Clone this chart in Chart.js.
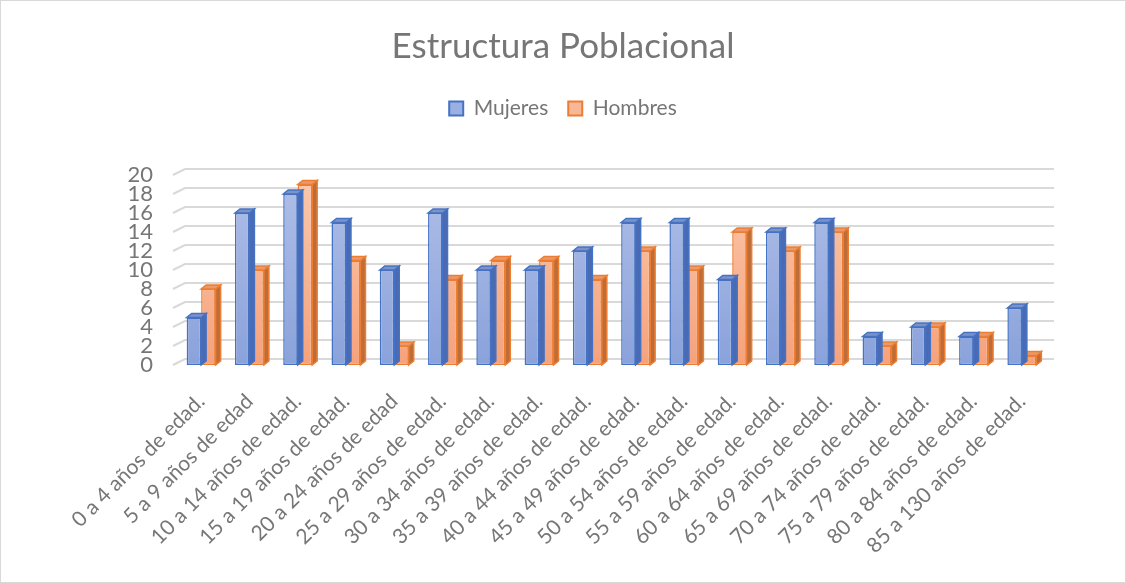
<!DOCTYPE html>
<html>
<head>
<meta charset="utf-8">
<script src="https://cdn.jsdelivr.net/npm/chart.js@4"></script>
<style>
  html, body { margin: 0; padding: 0; background: #fff; }
  #wrap { width: 1126px; height: 583px; position: relative; }
</style>
</head>
<body>
<div id="wrap"><canvas id="chart"></canvas></div>
<script>
// datos
const categorias = [
  '0 a 4 años de edad.', '5 a 9 años de edad', '10 a 14 años de edad.', '15 a 19 años de edad.',
  '20 a 24 años de edad', '25 a 29 años de edad.', '30 a 34 años de edad.', '35 a 39 años de edad.',
  '40 a 44 años de edad.', '45 a 49 años de edad.', '50 a 54 años de edad.', '55 a 59 años de edad.',
  '60 a 64 años de edad.', '65 a 69 años de edad.', '70 a 74 años de edad.', '75 a 79 años de edad.',
  '80 a 84 años de edad.', '85 a 130 años de edad.'
];
const mujeres = [5, 16, 18, 15, 10, 16, 10, 10, 12, 15, 15, 9, 14, 15, 3, 4, 3, 6];
const hombres = [8, 10, 19, 11, 2, 9, 11, 11, 9, 12, 10, 14, 12, 14, 2, 4, 3, 1];
const ticksY = [0, 2, 4, 6, 8, 10, 12, 14, 16, 18, 20];

const gris = '#767676';
const fuente = "Lato, 'Open Sans', sans-serif";

// colores de cada serie: arriba, abajo, borde, lado, tapa
const estilos = [
  { top: '#b0bfe7', bottom: '#8aa2db', border: '#4472c4', side: '#4a6bb3', cap: '#7d92c6' },
  { top: '#fbc8ac', bottom: '#f5a27c', border: '#ed7d31', side: '#bf6d38', cap: '#e9996c' }
];

function degradado(ctx, i) {
  const area = ctx.chart.chartArea;
  if (!area) return estilos[i].bottom;
  const g = ctx.chart.ctx.createLinearGradient(0, area.top, 0, area.bottom);
  g.addColorStop(0, estilos[i].top);
  g.addColorStop(1, estilos[i].bottom);
  return g;
}

// profundidad de las barras
const DX = 5, DY = 4;

// dibuja el lado y la tapa de cada barra (efecto 3D)
const barras3d = {
  id: 'barras3d',
  afterDatasetDraw(chart, args) {
    const c = chart.ctx;
    const st = estilos[args.index];
    args.meta.data.forEach(bar => {
      const p = bar.getProps(['x', 'y', 'base', 'width'], true);
      const l = p.x - p.width / 2, r = p.x + p.width / 2;
      c.save();
      c.lineWidth = 1.5;
      c.strokeStyle = st.border;
      // lado derecho
      c.beginPath();
      c.moveTo(r, p.y);
      c.lineTo(r + DX, p.y - DY);
      c.lineTo(r + DX, p.base - DY);
      c.lineTo(r, p.base);
      c.closePath();
      c.fillStyle = st.side;
      c.fill();
      c.stroke();
      // tapa
      c.beginPath();
      c.moveTo(l, p.y);
      c.lineTo(l + DX, p.y - DY);
      c.lineTo(r + DX, p.y - DY);
      c.lineTo(r, p.y);
      c.closePath();
      c.fillStyle = st.cap;
      c.fill();
      c.stroke();
      c.restore();
    });
  }
};

// líneas de la pared del fondo con su diagonal
const pared = {
  id: 'pared',
  beforeDatasetsDraw(chart) {
    const c = chart.ctx;
    const y = chart.scales.y;
    const area = chart.chartArea;
    c.save();
    c.strokeStyle = '#d9d9d9';
    c.lineWidth = 2;
    ticksY.forEach(v => {
      const py = y.getPixelForValue(v);
      c.beginPath();
      c.moveTo(area.left - 4, py);
      c.lineTo(area.left + 8, py - 6);
      c.lineTo(area.right + 8, py - 6);
      c.stroke();
    });
    c.restore();
  },
  beforeDraw(chart) {
    const c = chart.ctx;
    c.save();
    c.fillStyle = '#fff';
    c.fillRect(0, 0, chart.width, chart.height);
    c.strokeStyle = '#d9d9d9';
    c.lineWidth = 1;
    c.strokeRect(0.5, 0.5, chart.width - 1, chart.height - 1);
    c.restore();
  }
};

// ejes vacíos que solo reservan espacio
const ejeVacio = (pos, fit) => ({
  type: pos === 'top' ? 'category' : 'linear',
  position: pos,
  display: true,
  grid: { display: false, drawTicks: false },
  border: { display: false },
  ticks: { display: false },
  afterFit: fit
});

const ctx = document.getElementById('chart').getContext('2d');
const grafico = new Chart(ctx, {
  type: 'bar',
  data: {
    labels: categorias,
    datasets: [{
      label: 'Mujeres',
      data: mujeres,
      backgroundColor: c => degradado(c, 0),
      borderColor: estilos[0].border,
      borderWidth: 1.5,
      borderSkipped: false
    }, {
      label: 'Hombres',
      data: hombres,
      backgroundColor: c => degradado(c, 1),
      borderColor: estilos[1].border,
      borderWidth: 1.5,
      borderSkipped: false
    }]
  },
  options: {
    responsive: true,
    maintainAspectRatio: false,
    animation: false,
    datasets: { bar: { categoryPercentage: 0.6, barPercentage: 1.0 } },
    layout: { padding: { left: 20, right: 20, top: 0, bottom: 0 } },
    scales: {
      x: {
        grid: { display: false },
        border: { display: false },
        ticks: {
          color: gris,
          font: { family: fuente, size: 21 },
          minRotation: 45,
          maxRotation: 45,
          padding: 16,
          autoSkip: false
        },
        afterFit: s => { s.height = 218; }
      },
      xt: ejeVacio('top', s => { s.height = 46; }),
      y: {
        min: 0,
        max: 20,
        grid: { display: false, drawTicks: false },
        border: { display: false },
        ticks: {
          stepSize: 2,
          autoSkip: false,
          color: gris,
          font: { family: fuente, size: 22 },
          padding: 24
        },
        afterFit: s => { s.width = 157; }
      },
      yr: ejeVacio('right', s => { s.width = 60; })
    },
    plugins: {
      title: {
        display: true,
        text: 'Estructura Poblacional',
        color: gris,
        font: { family: fuente, size: 35, weight: 'normal' },
        padding: { top: 26, bottom: 10 }
      },
      legend: {
        labels: {
          color: gris,
          font: { family: fuente, size: 21 },
          boxWidth: 14,
          boxHeight: 14,
          padding: 20,
          generateLabels: chart => chart.data.datasets.map((d, i) => ({
            text: d.label,
            fillStyle: i === 0 ? '#9bb0e2' : '#f8b796',
            strokeStyle: estilos[i].border,
            lineWidth: 2,
            fontColor: gris,
            datasetIndex: i
          }))
        }
      },
      tooltip: { enabled: false }
    }
  },
  plugins: [pared, barras3d]
});
</script>
</body>
</html>
